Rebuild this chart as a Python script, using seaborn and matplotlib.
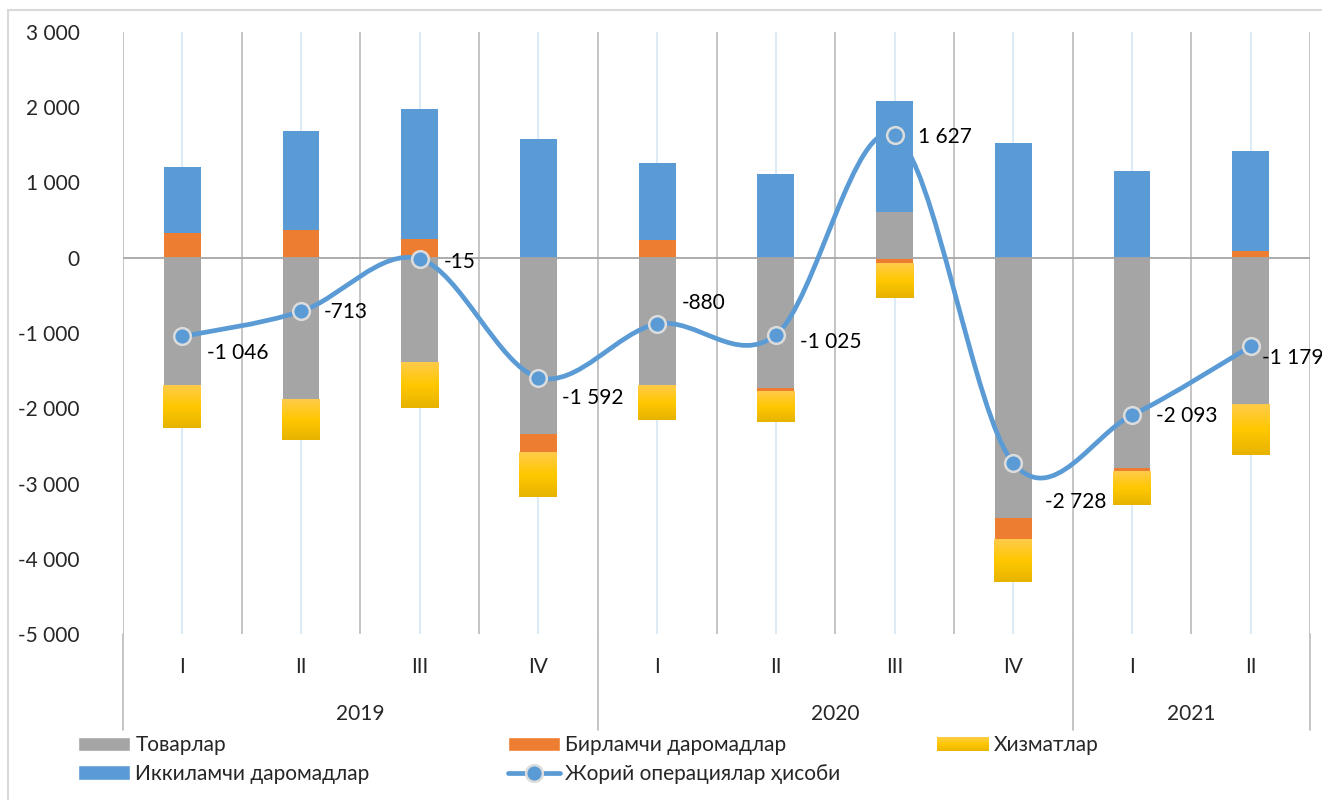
import numpy as np
import pandas as pd
import matplotlib
matplotlib.use('Agg')
import matplotlib.pyplot as plt
from matplotlib.path import Path
from matplotlib.patches import PathPatch, Rectangle
from matplotlib.lines import Line2D
from matplotlib.legend_handler import HandlerBase
import seaborn as sns

# data (mln USD)
years = ['2019', '2020', '2021']
quarters = ['I', 'II', 'III', 'IV', 'I', 'II', 'III', 'IV', 'I', 'II']
year_of_q = ['2019'] * 4 + ['2020'] * 4 + ['2021'] * 2
goods = [-1700, -1880, -1390, -2340, -1690, -1725, 610, -3460, -2800, -1950]
primary = [330, 370, 250, -250, 240, -55, -65, -290, -40, 90]
services = [-560, -540, -610, -595, -465, -400, -465, -560, -440, -665]
secondary = [880, 1310, 1730, 1580, 1025, 1115, 1475, 1525, 1155, 1325]
current = [-1046, -713, -15, -1592, -880, -1025, 1627, -2728, -2093, -1179]

names = ['Товарлар', 'Бирламчи даромадлар', 'Хизматлар',
         'Иккиламчи даромадлар', 'Жорий операциялар ҳисоби']
colors = ['#A5A5A5', '#ED7D31', '#FFC000', '#5B9BD5']
line_color = '#5B9BD5'

# label offsets next to each point (pixels, right / down)
label_off = [(25, 17), (23, 1), (24, 3), (24, 20), (25, -21),
             (24, 7), (23, 2), (32, 39), (24, 1), (11, 12)]

sns.set_style('white')
plt.rcParams['font.family'] = ['Lato', 'Noto Sans', 'DejaVu Sans']
FS = 15

W, H = 1322, 800
fig = plt.figure(figsize=(W / 100, H / 100), dpi=100)
ax = fig.add_axes([123 / W, 1 - 634 / H, (1310 - 123) / W, (634 - 32) / H])

keys = [f'{y} {q}' for y, q in zip(year_of_q, quarters)]
layers = [goods, primary, services, secondary]
pos_base = np.zeros(len(keys))
neg_base = np.zeros(len(keys))
containers = []
for vals, col in zip(layers, colors):
    vals = np.array(vals, dtype=float)
    bottom = np.where(vals >= 0, pos_base, neg_base)
    df = pd.DataFrame({'key': keys, 'val': vals})
    n_before = len(ax.containers)
    sns.barplot(data=df, x='key', y='val', bottom=bottom, color=col,
                saturation=1, width=0.31, ax=ax, zorder=3, linewidth=0)
    containers.append(ax.containers[n_before])
    pos_base = np.where(vals >= 0, pos_base + vals, pos_base)
    neg_base = np.where(vals < 0, neg_base + vals, neg_base)

# gold gradient on services bars
grad_cols = matplotlib.colors.LinearSegmentedColormap.from_list(
    'gold', ['#FFCB4A', '#FFC800', '#E6B300'])
grad = np.linspace(0, 1, 100).reshape(-1, 1)
for bar in containers[2]:
    bar.set_facecolor('none')
    x0, y0 = bar.get_x(), bar.get_y()
    w, h = bar.get_width(), bar.get_height()
    top, bot = max(y0, y0 + h), min(y0, y0 + h)
    im = ax.imshow(grad, cmap=grad_cols, aspect='auto',
                   extent=(x0 - 0.005, x0 + w + 0.005, bot, top),
                   origin='upper', zorder=3)

# smoothed line (Catmull-Rom style bezier like Excel)
xs = np.arange(len(current), dtype=float)
ys = np.array(current, dtype=float)
pts = np.column_stack([xs, ys])
verts = [pts[0]]
codes = [Path.MOVETO]
for i in range(len(pts) - 1):
    p0 = pts[i - 1] if i > 0 else pts[i]
    p1, p2 = pts[i], pts[i + 1]
    p3 = pts[i + 2] if i + 2 < len(pts) else pts[i + 1]
    verts += [p1 + (p2 - p0) / 6, p2 - (p3 - p1) / 6, p2]
    codes += [Path.CURVE4] * 3
ax.add_patch(PathPatch(Path(verts, codes), fill=False, edgecolor=line_color,
                       lw=3.4, capstyle='round', joinstyle='round', zorder=4))
ax.plot(xs, ys, linestyle='none', marker='o', markersize=12,
        markerfacecolor=line_color, markeredgecolor='#DCDCDC',
        markeredgewidth=1.8, zorder=5)

for x, v, (dx, dy) in zip(xs, current, label_off):
    ax.annotate(f'{v:,}'.replace(',', ' '), (x, v), xytext=(dx * 0.72, -dy * 0.72),
                textcoords='offset points', ha='left', va='center',
                fontsize=FS, color='#000000', zorder=6, annotation_clip=False)

# axes, grid lines
ax.set_xlim(-0.5, len(keys) - 0.5)
ax.set_ylim(-5000, 3000)
for s in ax.spines.values():
    s.set_visible(False)
for k in range(len(keys) + 1):
    ax.axvline(k - 0.5, color='#BFBFBF', lw=1.3, zorder=1)
for k in range(len(keys)):
    ax.axvline(k, color='#DDEBF7', lw=1.5, zorder=1)
ax.axhline(0, color='#A6A6A6', lw=1.3, zorder=3.5)

yt = np.arange(-5000, 3001, 1000)
ax.set_yticks(yt)
ax.set_yticklabels([f'{v:,}'.replace(',', ' ') for v in yt], fontsize=FS)
ax.tick_params(axis='y', length=0, pad=31)
ax.set_xticks([])
ax.set_xlabel('')
ax.set_ylabel('')

# two-level category axis
tr = ax.get_xaxis_transform()
for x, q in enumerate(quarters):
    ax.text(x, -33 / 602, q, transform=tr, ha='center', va='center', fontsize=FS)
for y in years:
    idx = [i for i, yy in enumerate(year_of_q) if yy == y]
    ax.text(np.mean(idx), -80 / 602, y, transform=tr, ha='center',
            va='center', fontsize=FS)
seps = [-0.5, 3.5, 7.5, len(keys) - 0.5]
for s in seps:
    ax.plot([s, s], [0, -96 / 602], transform=tr, color='#BFBFBF', lw=1.3,
            clip_on=False)

# outer border (only left/top visible in the picture)
fig.patches.append(Rectangle((8 / W, -0.1), 1.2, 1.1 - 10 / H,
                             transform=fig.transFigure, fill=False,
                             edgecolor='#D9D9D9', lw=1.5))


class GradHandler(HandlerBase):
    def create_artists(self, legend, orig, xd, yd, width, height, fontsize, trans):
        arts = []
        n = 12
        for i in range(n):
            c = grad_cols(1 - (i + 0.5) / n)
            arts.append(Rectangle((xd, yd + height * i / n), width, height / n + 0.3,
                                  facecolor=c, edgecolor='none', transform=trans))
        return arts


class GradPatch(Rectangle):
    pass


h_goods = Rectangle((0, 0), 1, 1, facecolor=colors[0])
h_prim = Rectangle((0, 0), 1, 1, facecolor=colors[1])
h_serv = GradPatch((0, 0), 1, 1)
h_sec = Rectangle((0, 0), 1, 1, facecolor=colors[3])
h_cur = Line2D([], [], color=line_color, lw=3.4, marker='o', markersize=12,
               markerfacecolor=line_color, markeredgecolor='#DCDCDC',
               markeredgewidth=1.8, solid_capstyle='round')

leg_kw = dict(frameon=False, fontsize=FS, handlelength=2.5, handleheight=0.67,
              handletextpad=0.25, labelspacing=0.42, borderpad=0, borderaxespad=0,
              loc='upper left', handler_map={GradPatch: GradHandler()})
cols = [([h_goods, h_sec], [names[0], names[3]], 78),
        ([h_prim, h_cur], [names[1], names[4]], 508),
        ([h_serv], [names[2]], 937)]
for hs, ls, xpx in cols:
    fig.legend(hs, ls, bbox_to_anchor=(xpx / W, 1 - 735 / H), **leg_kw)

fig.savefig('out.png', dpi=100)
